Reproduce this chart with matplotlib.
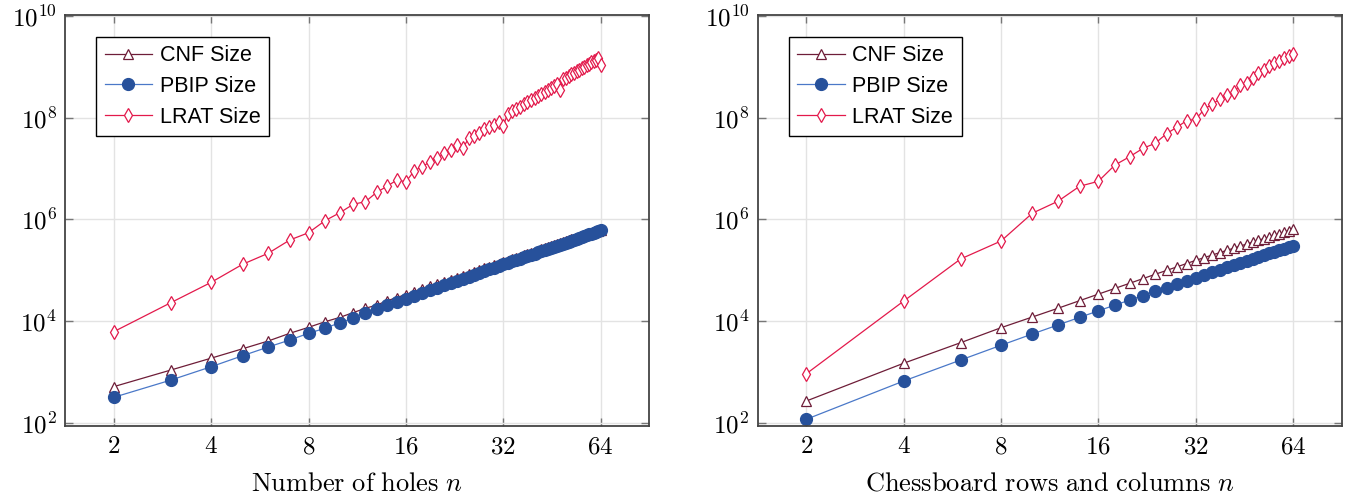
import matplotlib
matplotlib.use("Agg")
import matplotlib.pyplot as plt
import numpy as np

# Pigeonhole (left): n = 2..64
php_n = np.arange(2, 65)
php_cnf = [525, 1110, 1900, 2900, 4120, 5840, 7650, 9860, 12000, 14900, 18100, 20900, 25400,
           29400, 33700, 38400, 43300, 48500, 54100, 60000, 66100, 72600, 79500, 86600, 94000,
           102000, 110000, 118000, 127000, 136000, 146000, 155000, 166000, 176000, 187000,
           198000, 210000, 221000, 234000, 246000, 259000, 272000, 285000, 299000, 313000,
           328000, 343000, 358000, 374000, 390000, 406000, 423000, 440000, 457000, 474000,
           493000, 511000, 530000, 550000, 569000, 589000, 608000, 630000]
php_pbip = [324, 705, 1290, 2120, 3140, 4310, 5840, 7350, 9440, 11500, 14400, 17500, 20900,
            24400, 28100, 32200, 36500, 41200, 46100, 51400, 57000, 62900, 69100, 75700, 82600,
            89800, 97300, 105000, 113000, 122000, 131000, 140000, 150000, 160000, 170000,
            181000, 192000, 203000, 215000, 227000, 239000, 252000, 265000, 279000, 293000,
            307000, 322000, 337000, 352000, 369000, 385000, 401000, 418000, 436000, 454000,
            472000, 490000, 509000, 529000, 548000, 568000, 589000, 610000]
php_lrat = [6300, 23300, 58500, 132000, 217000, 396000, 550000, 950000, 1360000, 1990000,
            2240000, 3420000, 4500000, 5960000, 5500000, 9100000, 10900000, 13600000,
            15900000, 19900000, 23100000, 29000000, 25000000, 39000000, 43500000, 50500000,
            59000000, 64500000, 72000000, 83000000, 68000000, 117e6, 132e6, 147e6, 163e6,
            181e6, 201e6, 221e6, 244e6, 268e6, 293e6, 321e6, 350e6, 381e6, 415e6, 450e6,
            350e6, 560e6, 607e6, 655e6, 705e6, 758e6, 813e6, 873e6, 934e6, 1.00e9, 1.07e9,
            1.14e9, 1.21e9, 1.29e9, 1.37e9, 1.46e9, 1.07e9]

# Mutilated chessboard (right): n = 2, 4, ..., 64
chess_n = np.arange(2, 65, 2)
chess_cnf = [274, 1510, 3820, 7520, 12200, 18100, 25500, 34300, 44400, 56000, 69200, 84100,
             100000, 117600, 136800, 157700, 178600, 200900, 223800, 248800, 274300, 302000,
             330000, 359400, 390000, 421800, 454900, 489200, 524800, 561600, 599700, 639000]
chess_pbip = [120, 676, 1745, 3400, 5660, 8510, 12000, 16100, 20900, 26200, 32200, 38900,
              46200, 54100, 62700, 72000, 82000, 92500, 103800, 115700, 128200, 141500,
              155300, 169800, 185000, 200600, 217000, 233600, 251000, 268900, 287100, 306000]
chess_lrat = [940, 25100, 168000, 378000, 1.33e6, 2.28e6, 4.49e6, 5.62e6, 1.17e7, 1.71e7,
              2.5e7, 3.13e7, 4.83e7, 6.5e7, 8.7e7, 9.25e7, 1.45e8, 1.85e8, 2.29e8, 2.74e8,
              3.18e8, 4.37e8, 4.84e8, 5.9e8, 7.4e8, 8.6e8, 1.03e9, 1.16e9, 1.31e9, 1.48e9,
              1.62e9, 1.77e9]

xticks = [2, 4, 8, 16, 32, 64]
yticks = [1e2, 1e4, 1e6, 1e8, 1e10]

plt.rcParams['mathtext.fontset'] = 'cm'

cnf_col = '#6e1d38'
pbip_col = '#27519b'
pbip_line = '#4a78c8'
lrat_col = '#e3194b'

fig = plt.figure(figsize=(13.48, 4.98), dpi=100)
ax1 = fig.add_axes([0.0484, 0.1452, 0.4332, 0.8241])
ax2 = fig.add_axes([0.5621, 0.1452, 0.4332, 0.8241])


def draw(ax, n, cnf, pbip, lrat, xlabel):
    ax.plot(n, cnf, color=cnf_col, lw=0.9, marker='^', ms=7, mfc='white',
            mec=cnf_col, mew=0.9, label='CNF Size')
    ax.plot(n, pbip, color=pbip_line, lw=0.9, marker='o', ms=8.5, mfc=pbip_col,
            mec=pbip_col, label='PBIP Size')
    ax.plot(n, lrat, color=lrat_col, lw=0.9, marker='d', ms=7.5, mfc='white',
            mec=lrat_col, mew=0.9, label='LRAT Size')

    ax.set_xscale('log', base=2)
    ax.set_yscale('log')
    ax.set_xlim(2 ** 0.5, 2 ** 6.5)
    ax.set_ylim(10 ** 1.953, 10 ** 10.008)
    ax.set_xticks(xticks)
    ax.set_xticklabels([r'$%d$' % t for t in xticks])
    ax.set_yticks(yticks)
    ax.set_yticklabels([r'$10^{%d}$' % int(np.log10(t)) for t in yticks])
    ax.minorticks_off()
    ax.tick_params(axis='both', which='major', direction='in', length=6, width=1,
                   color='#777777', labelsize=18, top=True, right=True, pad=6)
    ax.grid(True, color='#e3e3e3', lw=1)
    ax.set_axisbelow(True)
    for s in ax.spines.values():
        s.set_color('#444444')
        s.set_linewidth(1.3)
    ax.set_xlabel(xlabel, fontsize=19, labelpad=9)

    leg = ax.legend(loc='upper left', bbox_to_anchor=(0.053, 0.948),
                    prop={'family': 'Liberation Sans', 'size': 15.5},
                    fancybox=False, framealpha=1, edgecolor='black',
                    handlelength=2.2, borderpad=0.4, labelspacing=0.45, handletextpad=0.35,
                    borderaxespad=0)
    leg.get_frame().set_linewidth(1.0)


draw(ax1, php_n, php_cnf, php_pbip, php_lrat, r'$\mathrm{Number\ of\ holes}\ n$')
draw(ax2, chess_n, chess_cnf, chess_pbip, chess_lrat,
     r'$\mathrm{Chessboard\ rows\ and\ columns}\ n$')

fig.savefig('out.png', dpi=100)
